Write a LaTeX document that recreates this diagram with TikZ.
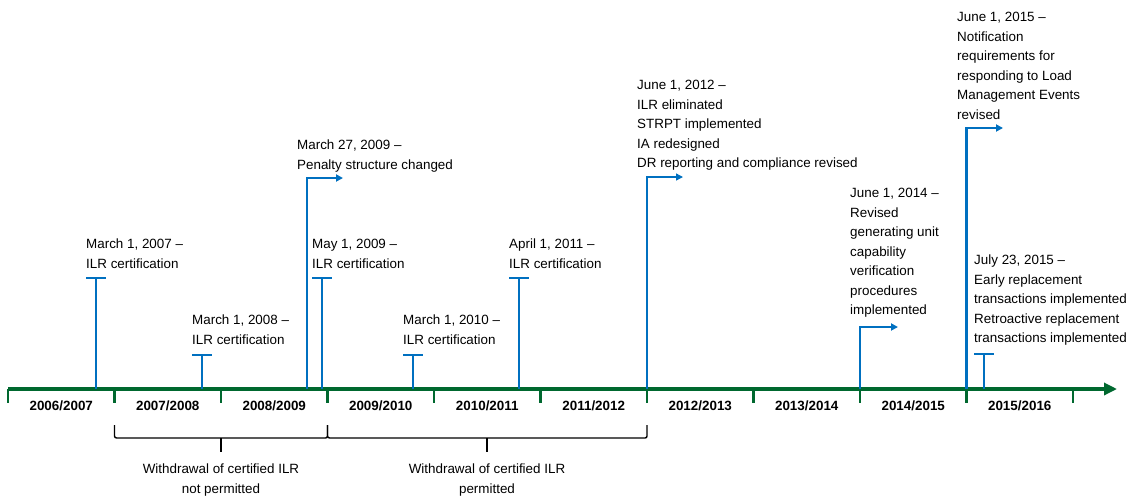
\documentclass[tikz,border=0pt]{standalone}
\usepackage{fontspec}
\setmainfont{Liberation Sans}
\usetikzlibrary{arrows.meta,positioning,calc}
\definecolor{axisgreen}{HTML}{00682F}
\definecolor{eventblue}{HTML}{0070C0}

\begin{document}
\begin{tikzpicture}[x=1pt, y=-1pt,
  axisline/.style={draw=axisgreen, line width=3.2pt, -{Triangle[length=13pt, width=12pt]}},
  yeartick/.style={draw=axisgreen, line width=2.8pt},
  yearlabel/.style={inner sep=0pt, font=\fontsize{13.4}{15}\selectfont\bfseries},
  eventline/.style={draw=eventblue, line width=2.8pt},
  elbow/.style={eventline, -{Triangle[length=7pt, width=7pt]}},
  eventlabel/.style={anchor=north west, align=left, inner sep=0pt,
    font=\fontsize{13.4}{19.5}\selectfont},
  bracketline/.style={draw=black, line width=1.4pt, rounded corners=2pt},
  bracketlabel/.style={anchor=north, align=center, inner sep=0pt,
    font=\fontsize{13.4}{19.5}\selectfont}
]
\useasboundingbox (0,0) rectangle (1131,498);

% Time axis with fiscal year ticks and labels
\coordinate (axstart) at (8,389);
\coordinate (axend) at (1117,389);
\draw[axisline] (axstart) -- (axend);
\foreach \i in {0,...,10}
  \draw[yeartick] (8+106.5*\i,389) -- (8+106.5*\i,403);
\foreach \ya/\yb [count=\i from 0] in {2006/2007,2007/2008,2008/2009,2009/2010,2010/2011,
    2011/2012,2012/2013,2013/2014,2014/2015,2015/2016}
  \node[yearlabel] (fy\i) at (8+106.5*\i+53.25,406) {\ya/\yb};

% March 1, 2007
\coordinate (a07) at (96,389);
\coordinate (t07) at (96,278);
\draw[eventline] (a07) -- (t07);
\draw[eventline] ([xshift=-10pt]t07) -- ([xshift=10pt]t07);
\node[eventlabel] (l07) at (86,239) {March 1, 2007 –\\ILR certification};

% March 1, 2008
\coordinate (a08) at (202,389);
\coordinate (t08) at (202,355);
\draw[eventline] (a08) -- (t08);
\draw[eventline] ([xshift=-10pt]t08) -- ([xshift=10pt]t08);
\node[eventlabel] (l08) at (192,315) {March 1, 2008 –\\ILR certification};

% March 27, 2009
\coordinate (a09p) at (307,389);
\coordinate (e09p) at (343,178);
\draw[elbow] (a09p) |- (e09p);
\node[eventlabel] (l09p) at (297,140) {March 27, 2009 –\\Penalty structure changed};

% May 1, 2009
\coordinate (a09) at (322,389);
\coordinate (t09) at (322,278);
\draw[eventline] (a09) -- (t09);
\draw[eventline] ([xshift=-10pt]t09) -- ([xshift=10pt]t09);
\node[eventlabel] (l09) at (312,239) {May 1, 2009 –\\ILR certification};

% March 1, 2010
\coordinate (a10) at (413,389);
\coordinate (t10) at (413,355);
\draw[eventline] (a10) -- (t10);
\draw[eventline] ([xshift=-10pt]t10) -- ([xshift=10pt]t10);
\node[eventlabel] (l10) at (403,315) {March 1, 2010 –\\ILR certification};

% April 1, 2011
\coordinate (a11) at (519,389);
\coordinate (t11) at (519,278);
\draw[eventline] (a11) -- (t11);
\draw[eventline] ([xshift=-10pt]t11) -- ([xshift=10pt]t11);
\node[eventlabel] (l11) at (509,239) {April 1, 2011 –\\ILR certification};

% June 1, 2012
\coordinate (a12) at (647,389);
\coordinate (e12) at (683,177);
\draw[elbow, line width=1.3pt] (a12) |- (e12);
\node[eventlabel] (l12) at (637,80) {June 1, 2012 –\\ILR eliminated\\STRPT implemented\\IA redesigned\\DR reporting and compliance  revised};

% June 1, 2014
\coordinate (a14) at (860,389);
\coordinate (e14) at (898,327);
\draw[elbow] (a14) |- (e14);
\node[eventlabel] (l14) at (850,188) {June 1, 2014 –\\Revised\\generating unit\\capability\\verification\\procedures\\implemented};

% June 1, 2015
\coordinate (a15) at (966.5,389);
\coordinate (e15) at (1003,128);
\draw[elbow] (a15) |- (e15);
\node[eventlabel] (l15) at (957,12) {June 1, 2015 –\\Notification\\requirements for\\responding to Load\\Management Events\\revised};

% July 23, 2015
\coordinate (a15j) at (984,389);
\coordinate (t15j) at (984,354);
\draw[eventline] (a15j) -- (t15j);
\draw[eventline] ([xshift=-10pt]t15j) -- ([xshift=10pt]t15j);
\node[eventlabel] (l15j) at (974,255) {July 23, 2015 –\\Early replacement\\transactions implemented\\Retroactive replacement\\transactions implemented};

% Brackets for ILR withdrawal periods
\coordinate (brA) at (114.5,425);
\coordinate (brB) at (327.5,425);
\coordinate (brC) at (647,425);
\coordinate (midA) at (221,438);
\coordinate (midB) at (487,438);
\draw[bracketline] (brA) -- ++(0,13) -| (brB);
\draw[bracketline] (midA) -- ++(0,14);
\draw[bracketline] (brB) -- ++(0,13) -| (brC);
\draw[bracketline] (midB) -- ++(0,14);
\node[bracketlabel] (wdA) at (221,464) {Withdrawal of certified ILR\\not permitted};
\node[bracketlabel] (wdB) at (487,464) {Withdrawal of certified ILR\\permitted};

\end{tikzpicture}
\end{document}
